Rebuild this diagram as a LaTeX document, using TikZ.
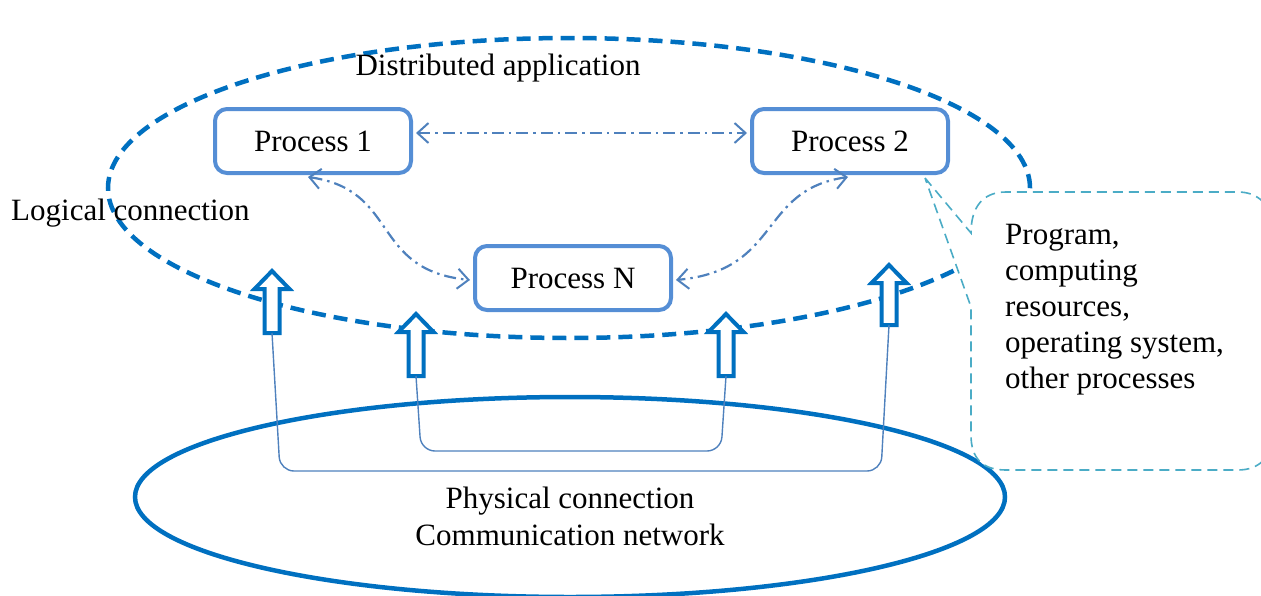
\documentclass[tikz,border=0pt]{standalone}
\usepackage{fontspec}
\setmainfont{Liberation Serif}
\usetikzlibrary{arrows.meta,calc}
\definecolor{dblue}{RGB}{0,112,192}
\definecolor{pblue}{RGB}{85,142,213}
\definecolor{lblue}{RGB}{79,129,189}
\definecolor{cteal}{RGB}{75,172,198}
\tikzset{
  txt/.style={font=\fontsize{31}{36}\selectfont, inner sep=0pt},
  procbox/.style={draw=pblue, line width=4pt, rounded corners=12pt, fill=white,
    minimum width=196pt, minimum height=64pt, txt},
  logical/.style={draw=dblue, line width=4.5pt, dash pattern=on 14pt off 8pt},
  physical/.style={draw=dblue, line width=4.5pt},
  dd/.style={draw=lblue, line width=2.2pt, dash pattern=on 12pt off 5pt on 2.5pt off 5pt,
    {Straight Barb[length=11pt,width=20pt,line width=2pt]}-{Straight Barb[length=11pt,width=20pt,line width=2pt]}},
  barrow/.style={draw=dblue, line width=4pt, fill=white, line join=miter},
  bracket/.style={draw=lblue, line width=1.4pt, rounded corners=14pt},
  callout/.style={draw=cteal, line width=1.6pt, dash pattern=on 10pt off 6pt, fill=white},
  uparrow/.pic={
    \draw[barrow] (-7.5,0) -- (-7.5,-#1+18) -- (-17.5,-#1+18) -- (0,-#1)
      -- (17.5,-#1+18) -- (7.5,-#1+18) -- (7.5,0) -- cycle;
    \coordinate (-tail) at (0,0);
  }
}
\begin{document}
\begin{tikzpicture}[x=1pt,y=-1pt]
\useasboundingbox (0,0) rectangle (1261,595);
% logical (distributed application) ellipse
\draw[logical] (569,188) ellipse [x radius=461pt, y radius=150pt];
% physical ellipse
\draw[physical] (570,497) ellipse [x radius=435pt, y radius=100pt];

% processes
\node[procbox] (p1) at (313,141) {Process 1};
\node[procbox] (p2) at (850,141) {Process 2};
\node[procbox] (pn) at (573,278) {Process N};

% callout
\coordinate (ctip) at ([xshift=75pt,yshift=-3pt]p2.south);
\draw[callout] (ctip) -- (971,233) .. controls (971,208) and (982,192) .. (1006,192)
  -- (1238,192) .. controls (1258,192) and (1272,205) .. (1272,228)
  -- (1272,436) .. controls (1272,458) and (1258,470) .. (1238,470)
  -- (1006,470) .. controls (982,470) and (971,458) .. (971,435)
  -- (971,307) -- cycle;
\node[txt, anchor=north west, align=left] (ctext) at (1005,224)
  {Program,\\computing\\resources,\\operating system,\\other processes};

% logical connections
\draw[dd] ([xshift=3pt,yshift=8pt]p1.east) -- ([xshift=-3pt,yshift=8pt]p2.west);
\draw[dd] ([xshift=-5pt,yshift=-2pt]p1.south) .. controls (400,190) and (370,270) .. ([xshift=-3pt,yshift=-2pt]pn.west);
\draw[dd] ([xshift=-2pt,yshift=-2pt]p2.south) .. controls (758,190) and (782,270) .. ([xshift=3pt,yshift=-2pt]pn.east);

% block arrows
\pic (a1) at (272,333) {uparrow=62};
\pic (a2) at (416,376) {uparrow=62};
\pic (a3) at (726,376) {uparrow=62};
\pic (a4) at (889,325) {uparrow=60};

% physical connections
\draw[bracket] (a1-tail) -- (280,471) -- (881,471) -- (a4-tail);
\draw[bracket] (a2-tail) -- (421,451) -- (721,451) -- (a3-tail);

% labels
\node[txt, anchor=base] (dapp) at (498,75) {Distributed application};
\node[txt, anchor=base west] (lconn) at (11,220) {Logical connection};
\node[txt, anchor=north, align=center, font=\fontsize{31}{37}\selectfont] (phys) at (570,487) {Physical connection\\Communication network};
\end{tikzpicture}
\end{document}
